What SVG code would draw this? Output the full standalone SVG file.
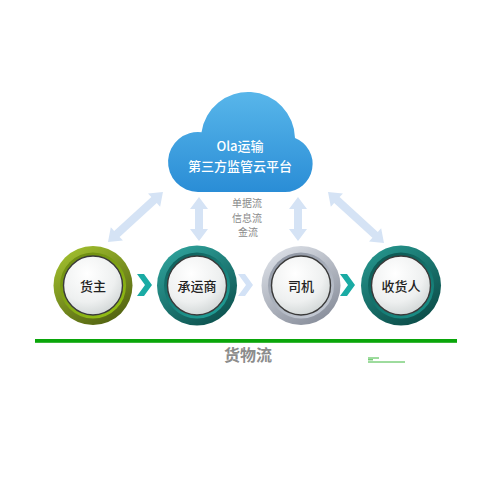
<svg xmlns="http://www.w3.org/2000/svg" width="500" height="500" viewBox="0 0 500 500">
<defs>
<style>
.lbl{font-family:"Noto Sans CJK SC","Liberation Sans",sans-serif;font-size:13px;fill:#222;text-anchor:middle;dominant-baseline:central;font-weight:500}
.cl{font-family:"Noto Sans CJK SC","Liberation Sans",sans-serif;font-size:13px;fill:#fff;text-anchor:middle;font-weight:500}
.flow{font-family:"Noto Sans CJK SC","Liberation Sans",sans-serif;font-size:10px;fill:#8a8a8a;text-anchor:middle}
.arr{fill:#d5e3f5}
.btn{fill:url(#gWhite);stroke:#3a3a3a;stroke-width:1.4}
</style>
<linearGradient id="gCloud" x1="0" y1="0" x2="0" y2="1">
<stop offset="0" stop-color="#58b6ea"/><stop offset="1" stop-color="#2a8dd6"/>
</linearGradient>
<radialGradient id="gWhite" cx="0.4" cy="0.3" r="0.8">
<stop offset="0" stop-color="#ffffff"/><stop offset="0.6" stop-color="#eef0f0"/><stop offset="1" stop-color="#c9cfcf"/>
</radialGradient>
<linearGradient id="gOlive" x1="0.2" y1="0" x2="0.8" y2="1">
<stop offset="0" stop-color="#a2c02e"/><stop offset="1" stop-color="#4f5f10"/>
</linearGradient>
<linearGradient id="gOliveIn" x1="0.2" y1="0" x2="0.8" y2="1">
<stop offset="0" stop-color="#6d8a12"/><stop offset="1" stop-color="#94c014"/>
</linearGradient>
<linearGradient id="gTeal" x1="0.2" y1="0" x2="0.8" y2="1">
<stop offset="0" stop-color="#2fa39c"/><stop offset="1" stop-color="#0c4f4c"/>
</linearGradient>
<linearGradient id="gTealIn" x1="0.2" y1="0" x2="0.8" y2="1">
<stop offset="0" stop-color="#0f5e5a"/><stop offset="1" stop-color="#20a098"/>
</linearGradient>
<linearGradient id="gSilver" x1="0.2" y1="0" x2="0.8" y2="1">
<stop offset="0" stop-color="#dde1e8"/><stop offset="1" stop-color="#858b98"/>
</linearGradient>
<linearGradient id="gSilverIn" x1="0.2" y1="0" x2="0.8" y2="1">
<stop offset="0" stop-color="#8e95a2"/><stop offset="1" stop-color="#c6ccd6"/>
</linearGradient>
<linearGradient id="gTeal2" x1="0.2" y1="0" x2="0.8" y2="1">
<stop offset="0" stop-color="#25958d"/><stop offset="1" stop-color="#0b4a46"/>
</linearGradient>
<linearGradient id="gTeal2In" x1="0.2" y1="0" x2="0.8" y2="1">
<stop offset="0" stop-color="#0c5550"/><stop offset="1" stop-color="#1a9088"/>
</linearGradient>
</defs>
<rect width="500" height="500" fill="#fff"/>

<g id="cloud">
<path d="M 198 192 A 30 30 0 1 1 201.5 132.2 A 47 47 0 0 1 295 138 A 28 28 0 0 1 285 192 Z" fill="url(#gCloud)"/>
<text class="cl" x="240" y="151">Ola运输</text>
<text class="cl" x="240" y="170.5">第三方监管云平台</text>
</g>

<g id="connectors">
<polygon class="arr" transform="translate(108,242) rotate(-42.3)" points="0,0 12,-9 12,-4 62.3,-4 62.3,-9 74.3,0 62.3,9 62.3,4 12,4 12,9"/>
<polygon class="arr" transform="translate(199,197) rotate(90)" points="0,0 12,-9 12,-4 32,-4 32,-9 44,0 32,9 32,4 12,4 12,9"/>
<polygon class="arr" transform="translate(298,197) rotate(90)" points="0,0 12,-9 12,-4 32,-4 32,-9 44,0 32,9 32,4 12,4 12,9"/>
<polygon class="arr" transform="translate(328,192) rotate(42.3)" points="0,0 12,-9 12,-4 63.7,-4 63.7,-9 75.7,0 63.7,9 63.7,4 12,4 12,9"/>
<polygon fill="#1aaba4" points="137,274 144,274 152,285 144,296 137,296 145,285"/>
<polygon fill="#d3e2f6" points="238,274 245,274 253,285 245,296 238,296 246,285"/>
<polygon fill="#1aaba4" points="340,274 347,274 355,285 347,296 340,296 348,285"/>
</g>

<g id="flowlabel">
<text class="flow" x="247" y="207">单据流</text>
<text class="flow" x="247" y="221.5">信息流</text>
<text class="flow" x="248" y="236">金流</text>
</g>

<g id="n-huozhu" transform="translate(93,285.5)">
<circle r="39.5" fill="url(#gOlive)"/>
<circle r="33" fill="url(#gOliveIn)"/>
<circle r="29.5" class="btn"/>
<text class="lbl">货主</text>
</g>
<g id="n-chengyunshang" transform="translate(197,285.5)">
<circle r="40" fill="url(#gTeal)"/>
<circle r="33" fill="url(#gTealIn)"/>
<circle r="29.5" class="btn"/>
<text class="lbl">承运商</text>
</g>
<g id="n-siji" transform="translate(301,285.5)">
<circle r="39.5" fill="url(#gSilver)"/>
<circle r="33" fill="url(#gSilverIn)"/>
<circle r="29.5" class="btn"/>
<text class="lbl">司机</text>
</g>
<g id="n-shouhuoren" transform="translate(401,285.5)">
<circle r="40" fill="url(#gTeal2)"/>
<circle r="33" fill="url(#gTeal2In)"/>
<circle r="29.5" class="btn"/>
<text class="lbl">收货人</text>
</g>

<g id="goods">
<rect x="35" y="339" width="422" height="3.8" fill="#0aa60a"/>
<text x="248" y="361" font-family="Noto Sans CJK SC, Liberation Sans, sans-serif" font-size="16" font-weight="bold" fill="#8c8c8c" text-anchor="middle">货物流</text>
<line x1="368" y1="358" x2="379" y2="358" stroke="#0aa60a" stroke-width="0.8"/>
<line x1="368" y1="359.8" x2="373" y2="359.8" stroke="#0aa60a" stroke-width="0.8"/>
<line x1="368" y1="362" x2="405" y2="362" stroke="#0aa60a" stroke-width="0.8"/>
</g>
</svg>
